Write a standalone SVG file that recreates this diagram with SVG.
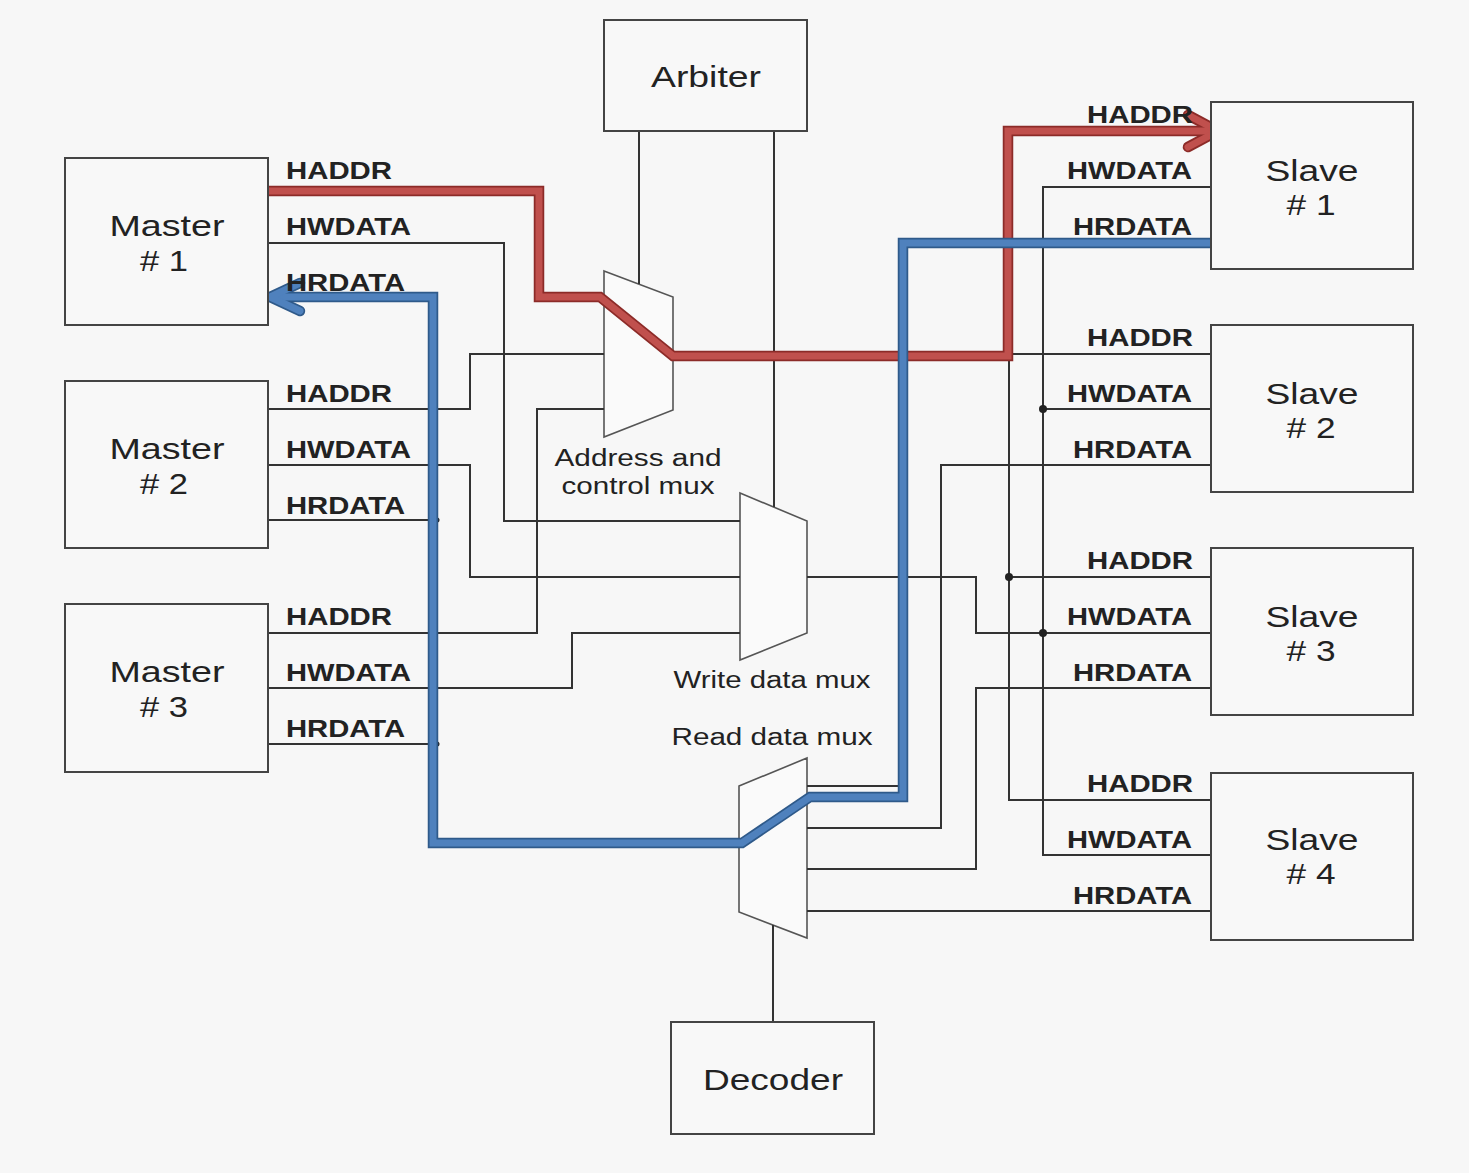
<svg xmlns="http://www.w3.org/2000/svg" width="1469" height="1173" viewBox="0 0 1469 1173">
<style>
.box{fill:#f8f8f8;stroke:#444;stroke-width:2}
.mux{fill:#fafafa;stroke:#555;stroke-width:1.6}
.w{fill:none;stroke:#333;stroke-width:2}
.lbl{font-family:"Liberation Sans",Arial,sans-serif;font-weight:bold;font-size:23px;fill:#222}
.nm{font-family:"Liberation Sans",Arial,sans-serif;font-size:29px;fill:#222;text-anchor:middle}
.mx{font-family:"Liberation Sans",Arial,sans-serif;font-size:23px;fill:#222;text-anchor:middle}
.ro{fill:none;stroke:#8c2b28;stroke-width:10.5;stroke-linejoin:miter}
.ri{fill:none;stroke:#c0504d;stroke-width:7;stroke-linejoin:miter}
.bo{fill:none;stroke:#2f5a8a;stroke-width:10.5;stroke-linejoin:miter}
.bi{fill:none;stroke:#4f81bd;stroke-width:7;stroke-linejoin:miter}
.dot{fill:#222}
</style>
<rect width="1469" height="1173" fill="#f7f7f7"/>

<g id="addr-mux">
  <path class="mux" d="M604,271 L673,297 V410 L604,437 Z"/>
  <text class="mx" x="638" y="466" textLength="167" lengthAdjust="spacingAndGlyphs">Address and</text>
  <text class="mx" x="638" y="494" textLength="153" lengthAdjust="spacingAndGlyphs">control mux</text>
</g>
<g id="write-mux">
  <path class="mux" d="M740,493 L807,521 V633 L740,660 Z"/>
  <text class="mx" x="772" y="688" textLength="197" lengthAdjust="spacingAndGlyphs">Write data mux</text>
</g>
<g id="read-mux">
  <path class="mux" d="M739,786 L807,758 V938 L739,912 Z"/>
  <text class="mx" x="772" y="745" textLength="201" lengthAdjust="spacingAndGlyphs">Read data mux</text>
</g>

<g id="connectors">
  <!-- master side thin wires -->
  <path class="w" d="M268,189 H539"/>
  <path class="w" d="M268,243 H504 V521 H740"/>
  <path class="w" d="M268,409 H470 V354 H604"/>
  <path class="w" d="M268,465 H470 V577 H740"/>
  <path class="w" d="M268,520 H437"/>
  <path class="w" d="M268,633 H537 V409 H604"/>
  <path class="w" d="M268,688 H572 V633 H740"/>
  <path class="w" d="M268,744 H437"/>
  <circle class="dot" cx="437" cy="520" r="2.5"/>
  <circle class="dot" cx="437" cy="744" r="2.5"/>
  <!-- arbiter control -->
  <path class="w" d="M639,131 V284"/>
  <path class="w" d="M774,131 V507"/>
  <!-- decoder -->
  <path class="w" d="M773,925 V1022"/>
  <!-- write mux output -->
  <path class="w" d="M807,577 H976 V633 H1211"/>
  <!-- address bus -->
  <path class="w" d="M1008,354 H1211"/>
  <path class="w" d="M1009,354 V800 H1211"/>
  <path class="w" d="M1009,577 H1211"/>
  <circle class="dot" cx="1009" cy="577" r="4"/>
  <!-- write data bus -->
  <path class="w" d="M1211,187 H1043 V855 H1211"/>
  <path class="w" d="M1043,409 H1211"/>
  <circle class="dot" cx="1043" cy="409" r="4"/>
  <circle class="dot" cx="1043" cy="633" r="4"/>
  <!-- read data -->
  <path class="w" d="M807,786 H907 V243"/>
  <path class="w" d="M1211,465 H941 V828 H807"/>
  <path class="w" d="M1211,688 H976 V869 H807"/>
  <path class="w" d="M807,911 H1211"/>

  <!-- highlighted red write-address path -->
  <g id="red-path">
    <path class="ro" d="M268,191 H539 V297 H600 L673,356 H1008 V131 H1216"/>
    <path class="ro" d="M1188,115 L1218,131 L1188,147" stroke-linecap="round"/>
    <path class="ri" d="M268,191 H539 V297 H600 L673,356 H1008 V131 H1216"/>
    <path class="ri" d="M1188,115 L1218,131 L1188,147" stroke-linecap="round"/>
  </g>
  <!-- highlighted blue read-data path -->
  <g id="blue-path">
    <path class="bo" d="M1211,243 H903 V797 H810 L742,843 H433 V297 H272"/>
    <path class="bo" d="M300,283 L270,297 L300,311" stroke-linecap="round"/>
    <path class="bi" d="M1211,243 H903 V797 H810 L742,843 H433 V297 H272"/>
    <path class="bi" d="M300,283 L270,297 L300,311" stroke-linecap="round"/>
  </g>
</g>

<g id="arbiter">
  <rect class="box" x="604" y="20" width="203" height="111"/>
  <text class="nm" x="706" y="87" textLength="110" lengthAdjust="spacingAndGlyphs">Arbiter</text>
</g>
<g id="decoder">
  <rect class="box" x="671" y="1022" width="203" height="112"/>
  <text class="nm" x="773" y="1090" textLength="140" lengthAdjust="spacingAndGlyphs">Decoder</text>
</g>

<g id="master1">
  <rect class="box" x="65" y="158" width="203" height="167"/>
  <text class="nm" x="167" y="236" textLength="115" lengthAdjust="spacingAndGlyphs">Master</text>
  <text class="nm" x="164" y="271" textLength="48" lengthAdjust="spacingAndGlyphs"># 1</text>
  <text class="lbl" x="286" y="179" textLength="106" lengthAdjust="spacingAndGlyphs">HADDR</text>
  <text class="lbl" x="286" y="235" textLength="125" lengthAdjust="spacingAndGlyphs">HWDATA</text>
  <text class="lbl" x="286" y="291" textLength="119" lengthAdjust="spacingAndGlyphs">HRDATA</text>
</g>
<g id="master2">
  <rect class="box" x="65" y="381" width="203" height="167"/>
  <text class="nm" x="167" y="459" textLength="115" lengthAdjust="spacingAndGlyphs">Master</text>
  <text class="nm" x="164" y="494" textLength="48" lengthAdjust="spacingAndGlyphs"># 2</text>
  <text class="lbl" x="286" y="402" textLength="106" lengthAdjust="spacingAndGlyphs">HADDR</text>
  <text class="lbl" x="286" y="458" textLength="125" lengthAdjust="spacingAndGlyphs">HWDATA</text>
  <text class="lbl" x="286" y="514" textLength="119" lengthAdjust="spacingAndGlyphs">HRDATA</text>
</g>
<g id="master3">
  <rect class="box" x="65" y="604" width="203" height="168"/>
  <text class="nm" x="167" y="682" textLength="115" lengthAdjust="spacingAndGlyphs">Master</text>
  <text class="nm" x="164" y="717" textLength="48" lengthAdjust="spacingAndGlyphs"># 3</text>
  <text class="lbl" x="286" y="625" textLength="106" lengthAdjust="spacingAndGlyphs">HADDR</text>
  <text class="lbl" x="286" y="681" textLength="125" lengthAdjust="spacingAndGlyphs">HWDATA</text>
  <text class="lbl" x="286" y="737" textLength="119" lengthAdjust="spacingAndGlyphs">HRDATA</text>
</g>

<g id="slave1">
  <rect class="box" x="1211" y="102" width="202" height="167"/>
  <text class="nm" x="1312" y="181" textLength="93" lengthAdjust="spacingAndGlyphs">Slave</text>
  <text class="nm" x="1311" y="215" textLength="49" lengthAdjust="spacingAndGlyphs"># 1</text>
  <text class="lbl" x="1087" y="123" textLength="106" lengthAdjust="spacingAndGlyphs">HADDR</text>
  <text class="lbl" x="1067" y="179" textLength="125" lengthAdjust="spacingAndGlyphs">HWDATA</text>
  <text class="lbl" x="1073" y="235" textLength="119" lengthAdjust="spacingAndGlyphs">HRDATA</text>
</g>
<g id="slave2">
  <rect class="box" x="1211" y="325" width="202" height="167"/>
  <text class="nm" x="1312" y="404" textLength="93" lengthAdjust="spacingAndGlyphs">Slave</text>
  <text class="nm" x="1311" y="438" textLength="49" lengthAdjust="spacingAndGlyphs"># 2</text>
  <text class="lbl" x="1087" y="346" textLength="106" lengthAdjust="spacingAndGlyphs">HADDR</text>
  <text class="lbl" x="1067" y="402" textLength="125" lengthAdjust="spacingAndGlyphs">HWDATA</text>
  <text class="lbl" x="1073" y="458" textLength="119" lengthAdjust="spacingAndGlyphs">HRDATA</text>
</g>
<g id="slave3">
  <rect class="box" x="1211" y="548" width="202" height="167"/>
  <text class="nm" x="1312" y="627" textLength="93" lengthAdjust="spacingAndGlyphs">Slave</text>
  <text class="nm" x="1311" y="661" textLength="49" lengthAdjust="spacingAndGlyphs"># 3</text>
  <text class="lbl" x="1087" y="569" textLength="106" lengthAdjust="spacingAndGlyphs">HADDR</text>
  <text class="lbl" x="1067" y="625" textLength="125" lengthAdjust="spacingAndGlyphs">HWDATA</text>
  <text class="lbl" x="1073" y="681" textLength="119" lengthAdjust="spacingAndGlyphs">HRDATA</text>
</g>
<g id="slave4">
  <rect class="box" x="1211" y="773" width="202" height="167"/>
  <text class="nm" x="1312" y="850" textLength="93" lengthAdjust="spacingAndGlyphs">Slave</text>
  <text class="nm" x="1311" y="884" textLength="49" lengthAdjust="spacingAndGlyphs"># 4</text>
  <text class="lbl" x="1087" y="792" textLength="106" lengthAdjust="spacingAndGlyphs">HADDR</text>
  <text class="lbl" x="1067" y="848" textLength="125" lengthAdjust="spacingAndGlyphs">HWDATA</text>
  <text class="lbl" x="1073" y="904" textLength="119" lengthAdjust="spacingAndGlyphs">HRDATA</text>
</g>
</svg>
